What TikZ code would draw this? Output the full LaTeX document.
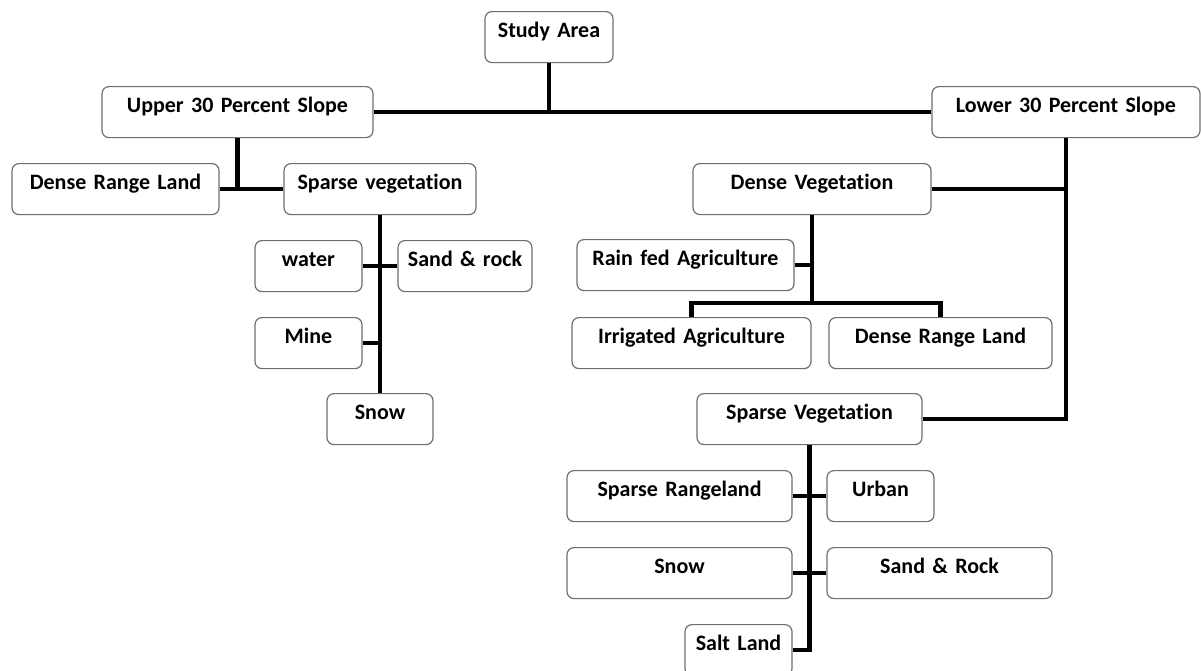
\documentclass[tikz,border=0pt]{standalone}
\usepackage{fontspec}
\setmainfont{Carlito}[Ligatures=NoCommon, WordSpace=0.85]
\usetikzlibrary{positioning}
\definecolor{boxgray}{RGB}{110,110,110}

\begin{document}
\begin{tikzpicture}[x=1pt, y=-1pt,
  landbox/.style={draw=boxgray, line width=1.2pt, rectangle, rounded corners=7pt,
    text centered, inner xsep=0pt, inner ysep=0pt, text height=26pt, text depth=25pt,
    anchor=north, font=\fontsize{22}{25}\selectfont\bfseries},
  link/.style={line width=4.6pt}]
  \useasboundingbox (0,0) rectangle (1201,670);

  % Root
  \node[landbox, text width=128pt] (study) at (549,11) {Study Area};

  % Slope classes
  \node[landbox, text width=271pt] (upper) at (237.5,86) {Upper 30 Percent Slope};
  \node[landbox, text width=268pt] (lower) at (1066,86) {Lower 30 Percent Slope};

  % Upper slope branch
  \node[landbox, text width=207pt] (drlU) at (115.5,163) {Dense Range Land};
  \node[landbox, text width=192pt] (sparseU) at (380,163) {Sparse vegetation};
  \node[landbox, text width=107pt] (water) at (308.5,240) {water};
  \node[landbox, text width=134pt] (sandU) at (465,240) {Sand \& rock};
  \node[landbox, text width=107pt] (mine) at (308.5,317) {Mine};
  \node[landbox, text width=106pt] (snowU) at (380,393) {Snow};

  % Lower slope branch: dense vegetation
  \node[landbox, text width=238pt] (denseV) at (812,163) {Dense Vegetation};
  \node[landbox, text width=217pt] (rain) at (685.5,239) {Rain fed Agriculture};
  \node[landbox, text width=239pt] (irr) at (691.5,317) {Irrigated Agriculture};
  \node[landbox, text width=223pt] (drlR) at (940.5,317) {Dense Range Land};

  % Lower slope branch: sparse vegetation
  \node[landbox, text width=225pt] (sparseR) at (809.5,393) {Sparse Vegetation};
  \node[landbox, text width=225pt] (srl) at (679.5,470) {Sparse Rangeland};
  \node[landbox, text width=107pt] (urban) at (880.5,470) {Urban};
  \node[landbox, text width=225pt] (snowR) at (679.5,547) {Snow};
  \node[landbox, text width=225pt] (sandR) at (939.5,547) {Sand \& Rock};
  \node[landbox, text width=107pt] (salt) at (738.5,624) {Salt Land};

  % Relationships
  \draw[link] (upper.east) -- (lower.west);
  \draw[link] (study.south) -- (study.south |- upper.east);
  \draw[link] (upper.south) -- (upper.south |- drlU.east);
  \draw[link] (drlU.east) -- (sparseU.west);
  \draw[link] (sparseU.south) -- (snowU.north);
  \draw[link] (water.east) -- (sandU.west);
  \draw[link] (mine.east) -- (mine.east -| sparseU.south);

  \draw[link] (lower.south) -- (lower.south |- sparseR.east) -- (sparseR.east);
  \draw[link] (denseV.east) -- (denseV.east -| lower.south);
  \coordinate (bar) at (812,303);
  \draw[link] (denseV.south) -- (bar);
  \draw[link] (irr.north) |- (bar) -| (drlR.north);
  \draw[link] (rain.east) -- (rain.east -| denseV.south);

  \draw[link] (sparseR.south) -- (sparseR.south |- salt.east) -- (salt.east);
  \draw[link] (srl.east) -- (urban.west);
  \draw[link] (snowR.east) -- (sandR.west);
\end{tikzpicture}
\end{document}
